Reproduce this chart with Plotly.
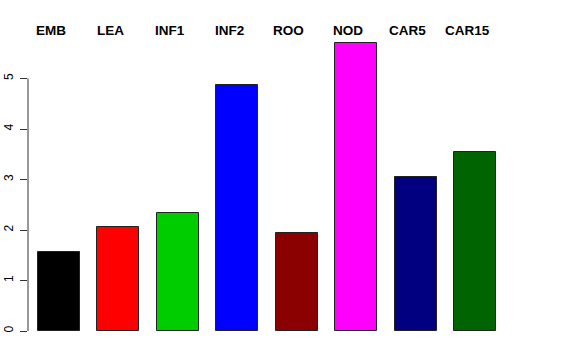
import plotly.graph_objects as go

categories = ["EMB", "LEA", "INF1", "INF2", "ROO", "NOD", "CAR5", "CAR15"]
values = [1.56, 2.05, 2.34, 4.87, 1.94, 5.70, 3.05, 3.54]
colors = ["#000000", "#FF0000", "#00CD00", "#0000FF", "#8B0000", "#FF00FF", "#000080", "#006400"]
y_ticks = [0, 1, 2, 3, 4, 5]

xs = list(range(len(categories)))
FONT = "Liberation Sans, Arial, Helvetica, sans-serif"
Y_MAX = 5.802

fig = go.Figure()
fig.add_trace(go.Bar(
    x=xs, y=values, width=0.706,
    marker=dict(color=colors, line=dict(color="#222222", width=1)),
    showlegend=False, hoverinfo="skip",
))

for x, lab in zip(xs, categories):
    fig.add_annotation(
        x=x, y=1, xref="x", yref="paper", text="<b>%s</b>" % lab,
        showarrow=False, xanchor="center", yanchor="middle",
        xshift=-8, yshift=8,
        font=dict(family=FONT, size=13.5, color="black"),
    )

# R-style axis line spanning only the tick range (0 .. 5)
fig.add_shape(type="line", xref="paper", yref="paper", x0=0, x1=0,
              y0=min(y_ticks) / Y_MAX, y1=max(y_ticks) / Y_MAX,
              line=dict(color="#333333", width=1), layer="above")

fig.update_layout(
    width=576, height=360,
    margin=dict(l=28, r=65, t=38, b=29, autoexpand=False),
    paper_bgcolor="white", plot_bgcolor="white",
    bargap=0,
    xaxis=dict(range=[-0.521, 7.6], showticklabels=False, showgrid=False,
               zeroline=False, showline=False, ticks="", automargin=False),
    yaxis=dict(range=[0, Y_MAX], tickvals=y_ticks, ticktext=[str(v) for v in y_ticks],
               ticks="outside", ticklen=7, tickcolor="#333333", tickwidth=1,
               tickangle=-90, showgrid=False, zeroline=False, showline=False,
               ticklabelstandoff=2, automargin=False,
               tickfont=dict(family=FONT, size=12, color="black")),
)

fig.write_html("out.html", config={"displayModeBar": False},
               post_script="document.body.style.margin='0';document.body.style.padding='0';")
